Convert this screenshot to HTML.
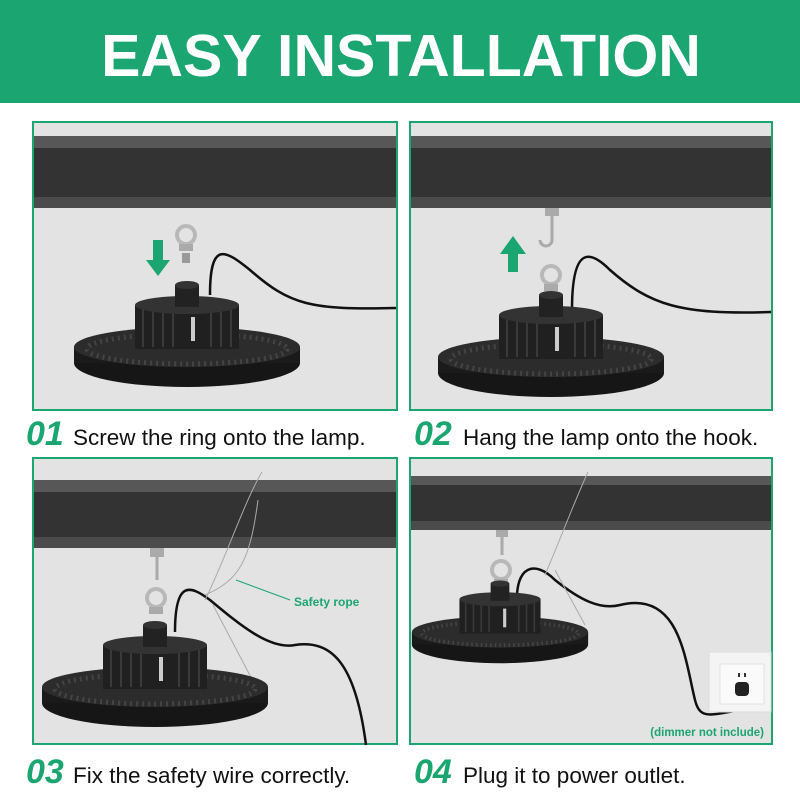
<!DOCTYPE html>
<html><head><meta charset="utf-8"><style>
body{margin:0;width:800px;height:800px;background:#fff;overflow:hidden;font-family:"Liberation Sans",sans-serif}
</style></head><body>
<svg width="800" height="800" viewBox="0 0 800 800" xmlns="http://www.w3.org/2000/svg">
<defs>
<g id="lamp">
<ellipse cx="0" cy="16" rx="113" ry="24" fill="#161616"/>
<rect x="-113" y="0" width="226" height="16" fill="#1a1a1a"/>
<ellipse cx="0" cy="0" rx="113" ry="20" fill="#2c2c2c"/>
<ellipse cx="0" cy="2" rx="100" ry="15" fill="none" stroke="#444" stroke-width="5" stroke-dasharray="2 4"/>
<rect x="-52" y="-42" width="104" height="44" fill="#202020"/>
<g stroke="#3a3a3a" stroke-width="2">
<line x1="-44" y1="-38" x2="-44" y2="0"/><line x1="-34" y1="-38" x2="-34" y2="0"/><line x1="-24" y1="-38" x2="-24" y2="0"/><line x1="-14" y1="-38" x2="-14" y2="0"/><line x1="24" y1="-38" x2="24" y2="0"/><line x1="34" y1="-38" x2="34" y2="0"/><line x1="44" y1="-38" x2="44" y2="0"/>
</g>
<rect x="4" y="-30" width="4" height="24" fill="#ccc"/>
<ellipse cx="0" cy="-42" rx="52" ry="9" fill="#333"/>
<rect x="-12" y="-62" width="24" height="22" fill="#222"/>
<ellipse cx="0" cy="-62" rx="12" ry="4" fill="#333"/>
</g>
<g id="ring"><circle cx="0" cy="0" r="9" fill="none" stroke="#b8b8b8" stroke-width="4"/><rect x="-7" y="9" width="14" height="7" fill="#aaa"/></g>
</defs>

<rect x="0" y="0" width="800" height="103" fill="#1aa571"/>
<text x="401" y="76" text-anchor="middle" font-size="59" font-weight="bold" fill="#fff" font-family="Liberation Sans,sans-serif">EASY INSTALLATION</text>

<!-- Panel 1 -->
<rect x="33" y="122" width="364" height="288" fill="#e3e3e3" stroke="#1aa571" stroke-width="2"/>
<rect x="34" y="136" width="362" height="12" fill="#575757"/>
<rect x="34" y="148" width="362" height="49" fill="#333"/>
<rect x="34" y="197" width="362" height="11" fill="#4b4b4b"/>
<polygon points="153,240 163,240 163,260 170,260 158,276 146,260 153,260" fill="#1aa571"/>
<use href="#ring" x="186" y="235"/>
<rect x="182" y="253" width="8" height="10" fill="#999"/>
<path d="M210,295 C210,240 225,250 250,270 C290,305 310,310 396,308" fill="none" stroke="#111" stroke-width="2.5"/>
<use href="#lamp" x="187" y="347"/>

<!-- Panel 2 -->
<rect x="410" y="122" width="362" height="288" fill="#e3e3e3" stroke="#1aa571" stroke-width="2"/>
<rect x="411" y="136" width="360" height="12" fill="#575757"/>
<rect x="411" y="148" width="360" height="49" fill="#333"/>
<rect x="411" y="197" width="360" height="11" fill="#4b4b4b"/>
<rect x="545" y="208" width="14" height="8" fill="#aaa"/>
<path d="M552,216 L552,240 A6,6 0 0 1 540,240" fill="none" stroke="#aaa" stroke-width="3"/>
<polygon points="508,272 518,272 518,254 526,254 513,236 500,254 508,254" fill="#1aa571"/>
<use href="#ring" x="551" y="275"/>
<path d="M572,310 C572,245 590,250 610,270 C650,305 680,315 771,312" fill="none" stroke="#111" stroke-width="2.5"/>
<use href="#lamp" x="551" y="357"/>

<!-- Panel 3 -->
<rect x="33" y="458" width="364" height="286" fill="#e3e3e3" stroke="#1aa571" stroke-width="2"/>
<rect x="34" y="480" width="362" height="12" fill="#575757"/>
<rect x="34" y="492" width="362" height="45" fill="#333"/>
<rect x="34" y="537" width="362" height="11" fill="#4b4b4b"/>
<rect x="150" y="548" width="14" height="9" fill="#aaa"/>
<line x1="157" y1="557" x2="157" y2="580" stroke="#aaa" stroke-width="3"/>
<use href="#ring" x="156" y="598"/>
<path d="M175,632 C175,580 190,585 210,600 C240,625 270,650 295,645 C330,640 355,660 366,745" fill="none" stroke="#111" stroke-width="2.5"/>
<path d="M262,472 C245,500 225,560 205,600 M258,500 C250,560 240,580 205,595 M213,605 L255,685" fill="none" stroke="#aaa" stroke-width="1"/>
<line x1="236" y1="580" x2="290" y2="600" stroke="#1aa571" stroke-width="1"/>
<text x="294" y="606" font-size="12" font-weight="bold" fill="#1aa571">Safety rope</text>
<use href="#lamp" x="155" y="687"/>

<!-- Panel 4 -->
<rect x="410" y="458" width="362" height="286" fill="#e3e3e3" stroke="#1aa571" stroke-width="2"/>
<rect x="411" y="476" width="360" height="9" fill="#575757"/>
<rect x="411" y="485" width="360" height="36" fill="#333"/>
<rect x="411" y="521" width="360" height="9" fill="#4b4b4b"/>
<rect x="496" y="530" width="12" height="7" fill="#aaa"/>
<line x1="502" y1="537" x2="502" y2="555" stroke="#aaa" stroke-width="3"/>
<use href="#ring" x="501" y="570"/>
<path d="M517,605 C515,565 535,560 555,580 C580,600 600,610 620,605 C680,590 685,660 695,700 C700,720 710,715 740,710" fill="none" stroke="#111" stroke-width="2.5"/>
<path d="M588,472 C575,500 560,540 545,575 M555,570 L585,625" fill="none" stroke="#aaa" stroke-width="1"/>
<rect x="709" y="652" width="62" height="60" fill="#f4f4f4" stroke="#ddd"/>
<rect x="720" y="664" width="44" height="40" fill="#fafafa" stroke="#e2e2e2"/>
<rect x="738" y="673" width="2" height="4" fill="#333"/><rect x="744" y="673" width="2" height="4" fill="#333"/>
<rect x="735" y="682" width="14" height="14" rx="4" fill="#222"/>
<text x="764" y="736" text-anchor="end" font-size="11.5" font-weight="bold" fill="#1aa571">(dimmer not include)</text>
<g transform="translate(500,632) scale(0.78)"><use href="#lamp"/></g>

<!-- Labels -->
<g font-family="Liberation Sans,sans-serif">
<text x="26" y="445" font-size="34" font-weight="bold" font-style="italic" fill="#1aa571">01</text>
<text x="73" y="445" font-size="22.5" fill="#111">Screw the ring onto the lamp.</text>
<text x="414" y="445" font-size="34" font-weight="bold" font-style="italic" fill="#1aa571">02</text>
<text x="463" y="445" font-size="22.5" fill="#111">Hang the lamp onto the hook.</text>
<text x="26" y="783" font-size="34" font-weight="bold" font-style="italic" fill="#1aa571">03</text>
<text x="73" y="783" font-size="22.5" fill="#111">Fix the safety wire correctly.</text>
<text x="414" y="783" font-size="34" font-weight="bold" font-style="italic" fill="#1aa571">04</text>
<text x="463" y="783" font-size="22.5" fill="#111">Plug it to power outlet.</text>
</g>
</svg>
</body></html>
